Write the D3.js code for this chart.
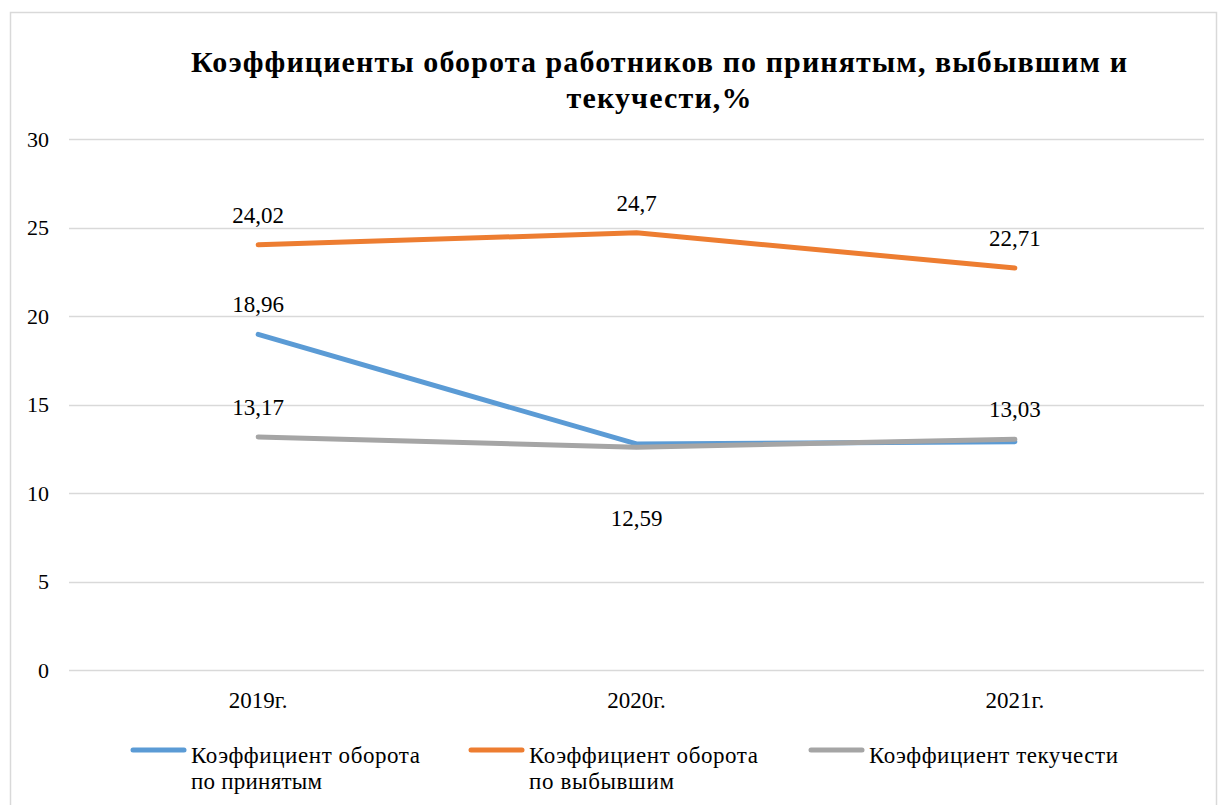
<!DOCTYPE html>
<html><head><meta charset="utf-8">
<script src="https://cdn.jsdelivr.net/npm/d3@7"></script>
<style>body{margin:0;background:#fff}svg{display:block}</style>
</head><body>
<svg id="c" width="1219" height="805" font-family="Liberation Serif"></svg>
<script>
const FONT = "Liberation Serif";
const categories = ["2019г.", "2020г.", "2021г."];
const seriesNames = [["Коэффициент оборота", "по принятым"], ["Коэффициент оборота", "по выбывшим"], ["Коэффициент текучести"]];
const hiredValues = [18.96, 12.77, 12.9];
const leftValues = [24.02, 24.7, 22.71];
const turnoverValues = [13.17, 12.59, 13.03];
const hiredLabels = ["18,96", null, null];
const leftLabels = ["24,02", "24,7", "22,71"];
const turnoverLabels = ["13,17", "12,59", "13,03"];
const yTicks = [0, 5, 10, 15, 20, 25, 30];
const colors = ["#5B9BD5", "#ED7D31", "#A5A5A5"];

const svg = d3.select("#c");
svg.append("rect").attr("x", 10.5).attr("y", 12.5).attr("width", 1206).attr("height", 800)
  .attr("fill", "#fff").attr("stroke", "#d9d9d9").attr("stroke-width", 1.5);

const x = d3.scaleBand().domain(categories).range([69, 1204]);
const y = d3.scaleLinear().domain([0, 30]).range([670, 139]);

// title
const title = svg.append("text").attr("text-anchor", "middle").attr("font-weight", "bold")
  .attr("font-family", FONT).attr("font-size", 30).attr("fill", "#000");
title.append("tspan").attr("x", 659).attr("y", 72).attr("textLength", 936).attr("lengthAdjust", "spacing")
  .text("Коэффициенты оборота работников по принятым, выбывшим и");
title.append("tspan").attr("x", 659).attr("y", 108).attr("textLength", 185).attr("lengthAdjust", "spacing")
  .text("текучести,%");

// grid
svg.append("g").selectAll("line").data(yTicks).join("line")
  .attr("x1", 69).attr("x2", 1204).attr("y1", d => Math.round(y(d)) + 0.5).attr("y2", d => Math.round(y(d)) + 0.5)
  .attr("stroke", "#d9d9d9").attr("stroke-width", 1.3);

// y axis labels
const yAxis = d3.axisLeft(y).tickValues(yTicks).tickSize(0).tickPadding(0);
const ya = svg.append("g").attr("transform", "translate(49,0)").call(yAxis).attr("font-family", FONT);
ya.select(".domain").remove();
ya.selectAll("text").attr("font-size", 22).attr("fill", "#000").attr("font-family", FONT).attr("dy", "0.33em");

// x axis labels
const xAxis = d3.axisBottom(x).tickSize(0).tickPadding(0);
const xa = svg.append("g").attr("transform", "translate(0,692)").call(xAxis).attr("font-family", FONT);
xa.select(".domain").remove();
xa.selectAll("text").attr("font-size", 23).attr("fill", "#000").attr("font-family", FONT);

const cx = d => x(d) + x.bandwidth() / 2;
const series = [
  {vals: hiredValues, labels: hiredLabels, color: colors[0], pos: [-1, -1, -1]},
  {vals: leftValues, labels: leftLabels, color: colors[1], pos: [-1, -1, -1]},
  {vals: turnoverValues, labels: turnoverLabels, color: colors[2], pos: [-1, 1, -1]}
];
const line = d3.line().x((d, i) => cx(categories[i])).y(d => y(d));
series.forEach(s => {
  svg.append("path").datum(s.vals).attr("d", line).attr("fill", "none")
    .attr("stroke", s.color).attr("stroke-width", 5).attr("stroke-linecap", "round").attr("stroke-linejoin", "round");
});
series.forEach(s => {
  svg.append("g").selectAll("text").data(s.vals.map((v, i) => ({v, i, l: s.labels[i], p: s.pos[i]})).filter(d => d.l))
    .join("text").attr("text-anchor", "middle").attr("font-size", 23).attr("fill", "#000").attr("font-family", FONT)
    .attr("x", d => cx(categories[d.i]))
    .attr("y", d => y(d.v) + (d.p < 0 ? -22 : 79))
    .text(d => d.l);
});

// legend
const legX = [133, 471, 811];
const legW = [[229, 131], [229, 145], [249]];
const lg = svg.append("g");
seriesNames.forEach((names, i) => {
  lg.append("line").attr("x1", legX[i]).attr("x2", legX[i] + 51).attr("y1", 750).attr("y2", 750)
    .attr("stroke", colors[i]).attr("stroke-width", 5).attr("stroke-linecap", "round");
  const t = lg.append("text").attr("font-size", 23).attr("fill", "#000").attr("font-family", FONT);
  names.forEach((n, j) => {
    t.append("tspan").attr("x", legX[i] + 58).attr("y", 763 + j * 26)
      .attr("textLength", legW[i][j]).attr("lengthAdjust", "spacing").text(n);
  });
});
</script>
</body></html>
